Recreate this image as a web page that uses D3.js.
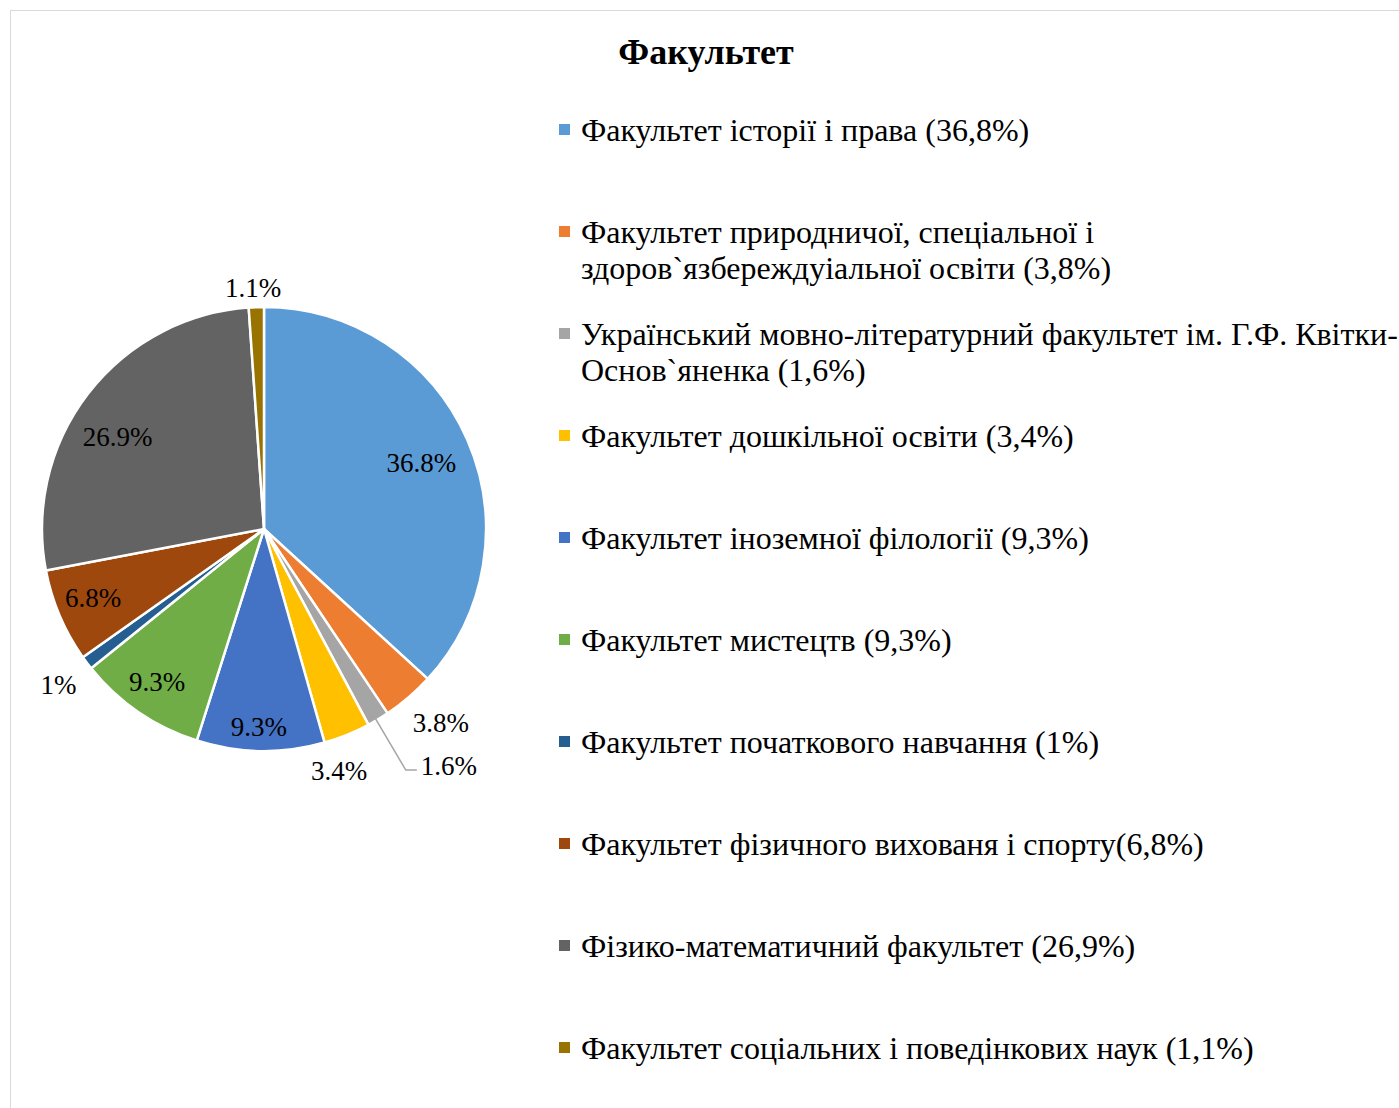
<!DOCTYPE html>
<html>
<head>
<meta charset="utf-8">
<script src="https://cdn.jsdelivr.net/npm/d3@7"></script>
<style>
  body { margin: 0; background: #fff; }
  text { font-family: 'Liberation Serif', 'Times New Roman', serif; fill: #000; }
</style>
</head>
<body>
<div id="chart"></div>
<script>
// slice values, clockwise from 12 o'clock
const VALUES = [36.8, 3.8, 1.6, 3.4, 9.3, 9.3, 1, 6.8, 26.9, 1.1];
const LABELS = ['36.8%', '3.8%', '1.6%', '3.4%', '9.3%', '9.3%', '1%', '6.8%', '26.9%', '1.1%'];
const COLORS = ['#5b9bd5', '#ed7d31', '#a5a5a5', '#ffc000', '#4472c4',
  '#70ad47', '#255e91', '#9e480e', '#636363', '#997300'];
const LEGEND = [
  ['Факультет історії і права (36,8%)'],
  ['Факультет природничої, спеціальної і', 'здоров`язбереждуіальної освіти (3,8%)'],
  ['Український мовно-літературний факультет ім. Г.Ф. Квітки-', 'Основ`яненка (1,6%)'],
  ['Факультет дошкільної освіти (3,4%)'],
  ['Факультет іноземної філології (9,3%)'],
  ['Факультет мистецтв (9,3%)'],
  ['Факультет початкового навчання (1%)'],
  ['Факультет фізичного вихованя і спорту(6,8%)'],
  ['Фізико-математичний факультет (26,9%)'],
  ['Факультет соціальних і поведінкових наук (1,1%)'],
];

// label placement (Excel "best fit"): distance as share of radius, angle nudge in degrees
const LABEL_R = [0.77, 1.18, 1.26, 1.14, 0.89, 0.84, 1.16, 0.83, 0.78, 1.09];
const LABEL_DA = [0.8, -1.8, 0.5, 4.7, 0.6, 0.6, 0, 1.1, -5.3, -0.6];

const width = 1399;
const height = 1108;
const cx = 264;
const cy = 529;
const radius = 222;

const svg = d3.select('#chart').append('svg')
  .attr('width', width)
  .attr('height', height);

svg.append('rect')
  .attr('x', 10.5)
  .attr('y', 10.5)
  .attr('width', width + 20)
  .attr('height', height + 20)
  .attr('fill', '#fff')
  .attr('stroke', '#d9d9d9')
  .attr('stroke-width', 1);

svg.append('text')
  .attr('x', 706)
  .attr('y', 64)
  .attr('text-anchor', 'middle')
  .attr('style', 'font-size: 36px; font-weight: 700')
  .text('Факультет');

const pie = d3.pie().sort(null).value(d => d);
const arcs = pie(VALUES);
const arc = d3.arc().innerRadius(0).outerRadius(radius);

const g = svg.append('g').attr('transform', `translate(${cx},${cy})`);

g.selectAll('path')
  .data(arcs)
  .enter().append('path')
  .attr('d', arc)
  .attr('fill', (d, i) => COLORS[i])
  .attr('stroke', '#fff')
  .attr('stroke-width', 2.5)
  .attr('stroke-linejoin', 'round');

const polar = (a, r) => [r * Math.sin(a), -r * Math.cos(a)];

g.selectAll('text.lbl')
  .data(arcs)
  .enter().append('text')
  .attr('class', 'lbl')
  .attr('text-anchor', (d, i) => (i === 2 ? 'start' : 'middle'))
  .attr('dy', '0.35em')
  .attr('style', 'font-size: 27px')
  .attr('transform', (d, i) => {
    const mid = (d.startAngle + d.endAngle) / 2 + LABEL_DA[i] * Math.PI / 180;
    const p = polar(mid, radius * LABEL_R[i]);
    if (i === 2) return `translate(${p[0] + 15},${p[1] - 5})`;
    return `translate(${p[0]},${p[1]})`;
  })
  .text((d, i) => LABELS[i]);

// leader line for the thin grey slice
const small = arcs[2];
const midSmall = (small.startAngle + small.endAngle) / 2 + LABEL_DA[2] * Math.PI / 180;
const p0 = polar(midSmall, radius * 0.98);
const p1 = polar(midSmall, radius * LABEL_R[2]);
g.append('path')
  .attr('d', d3.line()([p0, p1, [p1[0] + 11, p1[1]]]))
  .attr('fill', 'none')
  .attr('stroke', '#a5a5a5')
  .attr('stroke-width', 1.5);

// legend
const legendY = d3.scaleLinear().domain([0, LEGEND.length - 1]).range([130, 1048]);
const legend = svg.append('g');
LEGEND.forEach((lines, i) => {
  const y = legendY(i);
  legend.append('rect')
    .attr('x', 559)
    .attr('y', y - 6)
    .attr('width', 11)
    .attr('height', 11)
    .attr('fill', COLORS[i]);
  const t = legend.append('text')
    .attr('x', 581)
    .attr('y', y)
    .attr('style', 'font-size: 32px');
  lines.forEach((line, k) => {
    t.append('tspan')
      .attr('x', 581)
      .attr('y', y + k * 36)
      .attr('dy', '0.33em')
      .text(line);
  });
});
</script>
</body>
</html>
